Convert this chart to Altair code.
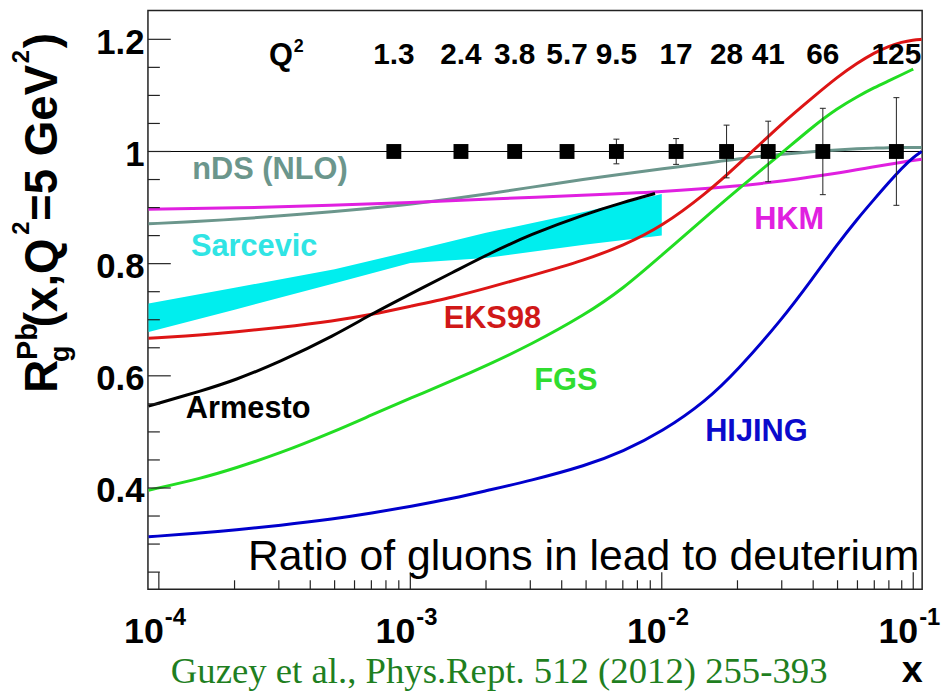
import altair as alt
import pandas as pd

# ---------------- data ----------------
X_GRID = [9.1e-5, 1.5e-4, 2e-4, 3e-4, 5e-4, 7e-4, 1e-3, 1.5e-3, 2e-3, 3e-3, 5e-3, 7e-3,
          1e-2, 1.5e-2, 2e-2, 3e-2, 4e-2, 5e-2, 6e-2, 7e-2, 8e-2, 9e-2, 0.1, 0.108]

nds = [0.871, 0.876, 0.879, 0.885, 0.893, 0.899, 0.906, 0.916, 0.924, 0.936, 0.951, 0.960,
       0.969, 0.979, 0.987, 0.995, 1.000, 1.003, 1.005, 1.006, 1.007, 1.007, 1.007, 1.007]
eks98 = [0.667, 0.673, 0.678, 0.686, 0.698, 0.709, 0.724, 0.741, 0.756, 0.778, 0.807, 0.832,
         0.866, 0.925, 0.975, 1.050, 1.097, 1.133, 1.158, 1.176, 1.188, 1.195, 1.199, 1.200]
fgs = [0.396, 0.418, 0.435, 0.461, 0.501, 0.530, 0.560, 0.593, 0.618, 0.655, 0.710, 0.755,
       0.815, 0.884, 0.932, 0.997, 1.045, 1.077, 1.098, 1.114, 1.126, 1.137, 1.147]
hijing = [0.313, 0.320, 0.325, 0.333, 0.345, 0.355, 0.367, 0.382, 0.395, 0.413, 0.440, 0.465,
          0.500, 0.555, 0.610, 0.700, 0.775, 0.835, 0.880, 0.915, 0.945, 0.970, 0.990, 1.000]

hkm_x = [9.1e-5, 2e-4, 5e-4, 1e-3, 2e-3, 5e-3, 1e-2, 2e-2, 3e-2, 5e-2, 7e-2, 9e-2, 0.108]
hkm = [0.897, 0.899, 0.904, 0.909, 0.915, 0.922, 0.928, 0.938, 0.947, 0.961, 0.973, 0.981, 0.986]

armesto_x = [9.1e-5, 1.5e-4, 2e-4, 3e-4, 5e-4, 7e-4, 1e-3, 1.5e-3, 2e-3, 3e-3, 5e-3, 7e-3, 9.4e-3]
armesto = [0.546, 0.574, 0.592, 0.624, 0.672, 0.710, 0.746, 0.786, 0.815, 0.852, 0.889, 0.909, 0.925]

sarcevic_x = [9.1e-5, 2e-4, 5e-4, 1e-3, 2e-3, 5e-3, 1e-2]
sarcevic_lo = [0.678, 0.718, 0.765, 0.801, 0.810, 0.834, 0.850]
sarcevic_hi = [0.729, 0.757, 0.790, 0.822, 0.855, 0.893, 0.924]

pts_x = [8.6e-4, 1.59e-3, 2.6e-3, 4.2e-3, 6.6e-3, 1.14e-2, 1.81e-2, 2.65e-2, 4.37e-2, 8.57e-2]
pts_y = [1, 1, 1, 1, 1, 1, 1, 1, 1, 1]
pts_err = [0.004, 0.004, 0.004, 0.004, 0.022, 0.023, 0.047, 0.054, 0.077, 0.096]
q2_labels = ["1.3", "2.4", "3.8", "5.7", "9.5", "17", "28", "41", "66", "125"]

y_major = [0.4, 0.6, 0.8, 1.0, 1.2]
y_minor = [0.25, 0.3, 0.35, 0.45, 0.5, 0.55, 0.65, 0.7, 0.75, 0.85, 0.9, 0.95, 1.05, 1.1, 1.15]
x_major = [1e-4, 1e-3, 1e-2, 1e-1]
x_major_exp = ["-4", "-3", "-2", "-1"]
x_minor = [2e-4, 3e-4, 4e-4, 5e-4, 6e-4, 7e-4, 8e-4, 9e-4,
           2e-3, 3e-3, 4e-3, 5e-3, 6e-3, 7e-3, 8e-3, 9e-3,
           2e-2, 3e-2, 4e-2, 5e-2, 6e-2, 7e-2, 8e-2, 9e-2]

models = ["nDS (NLO)", "HKM", "EKS98", "FGS", "HIJING", "Armesto"]
model_colors = ["#6b968c", "#e020e0", "#dd1515", "#22dd22", "#0000cc", "#000000"]

# ---------------- tables ----------------
rows = []
for name, xs, ys in [("nDS (NLO)", X_GRID, nds), ("HKM", hkm_x, hkm), ("EKS98", X_GRID, eks98),
                     ("FGS", X_GRID[:len(fgs)], fgs), ("HIJING", X_GRID, hijing),
                     ("Armesto", armesto_x, armesto)]:
    for xv, yv in zip(xs, ys):
        rows.append({"x": xv, "y": yv, "model": name})
curves = pd.DataFrame(rows)
band = pd.DataFrame({"x": sarcevic_x, "lo": sarcevic_lo, "hi": sarcevic_hi})
pts = pd.DataFrame({"x": pts_x, "y": pts_y, "lo": [a - b for a, b in zip(pts_y, pts_err)],
                    "hi": [a + b for a, b in zip(pts_y, pts_err)], "q2": q2_labels})
bars = pts[[e > 0.01 for e in pts_err]]
one_line = pd.DataFrame({"y": [1.0]})
ONE = pd.DataFrame({"a": [0]})

SANS = "Liberation Sans"
SERIF = "Liberation Serif"

XS = alt.Scale(type="log", domain=[9.05e-5, 0.1085], nice=False)
YS = alt.Scale(domain=[0.2195, 1.2513], nice=False, zero=False)
YAX = alt.Axis(values=y_major, format="~g", labelFont=SANS, labelFontSize=35,
               labelFontWeight="bold", labelColor="black", ticks=False, domain=False,
               grid=False, title=None, labelPadding=4, labelOffset=3)


def X(f="x"):
    return alt.X(f + ":Q", scale=XS, axis=None)


def Y(f="y"):
    return alt.Y(f + ":Q", scale=YS, axis=YAX)


def txt(s, x, y, size, color="black", weight="bold", align="center", angle=0, font=SANS):
    return alt.Chart(ONE).mark_text(text=s, fontSize=size, color=color, fontWeight=weight,
                                    align=align, baseline="alphabetic", angle=angle,
                                    font=font).encode(x=alt.value(x), y=alt.value(y))


layers = []
layers.append(alt.Chart(band).mark_area(color="#00eeee", opacity=1).encode(
    x=X(), y=Y("lo"), y2=alt.Y2("hi")))
layers.append(alt.Chart(one_line).mark_rule(color="black", strokeWidth=1).encode(y=Y()))
layers.append(alt.Chart(curves).mark_line(strokeWidth=3, interpolate="basis", clip=True).encode(
    x=X(), y=Y(), color=alt.Color("model:N", scale=alt.Scale(domain=models, range=model_colors),
                                  legend=None), order=alt.Order("x:Q")))
# error bars and caps
layers.append(alt.Chart(bars).mark_rule(color="#222", strokeWidth=1).encode(
    x=X(), y=Y("lo"), y2=alt.Y2("hi")))
layers.append(alt.Chart(bars).mark_rule(color="#222", strokeWidth=1, xOffset=-3, x2Offset=3).encode(
    x=X(), x2=alt.X2("x"), y=Y("lo")))
layers.append(alt.Chart(bars).mark_rule(color="#222", strokeWidth=1, xOffset=-3, x2Offset=3).encode(
    x=X(), x2=alt.X2("x"), y=Y("hi")))
layers.append(alt.Chart(pts).mark_square(size=225, color="black", opacity=1).encode(x=X(), y=Y()))
# Q^2 labels
layers.append(alt.Chart(pts).mark_text(font=SANS, fontSize=30, fontWeight="bold", color="black",
                                       baseline="alphabetic").encode(
    x=X(), y=alt.value(54), text="q2:N"))
layers.append(txt("Q", 122, 55, 31, align="left"))
layers.append(txt("2", 147, 42, 18, align="left"))

# ticks (inward, ROOT style)
layers.append(alt.Chart(pd.DataFrame({"y": y_major})).mark_rule(color="#222", strokeWidth=1.2).encode(
    y=Y(), x=alt.value(0), x2=alt.value(23)))
layers.append(alt.Chart(pd.DataFrame({"y": y_minor})).mark_rule(color="#222", strokeWidth=1.2).encode(
    y=Y(), x=alt.value(0), x2=alt.value(12)))
layers.append(alt.Chart(pd.DataFrame({"x": x_major})).mark_rule(color="#222", strokeWidth=1.2).encode(
    x=X(), y=alt.value(583), y2=alt.value(566)))
layers.append(alt.Chart(pd.DataFrame({"x": x_minor})).mark_rule(color="#222", strokeWidth=1.2).encode(
    x=X(), y=alt.value(583), y2=alt.value(574)))

# x tick labels 10^k
xlab = pd.DataFrame({"x": x_major, "e": x_major_exp, "b": ["10"] * 4})
layers.append(alt.Chart(xlab).mark_text(font=SANS, fontSize=36, fontWeight="bold", align="right",
                                        baseline="alphabetic", dx=5, color="black").encode(
    x=X(), y=alt.value(637), text="b:N"))
layers.append(alt.Chart(xlab).mark_text(font=SANS, fontSize=24, fontWeight="bold", align="left",
                                        baseline="alphabetic", dx=6, color="black").encode(
    x=X(), y=alt.value(619), text="e:N"))
layers.append(txt("x", 770, 676, 38))

# curve labels
layers.append(txt("nDS (NLO)", 123, 170, 31, color="#6b968c"))
layers.append(txt("Sarcevic", 107, 247, 31, color="#30e4e4"))
layers.append(txt("EKS98", 347, 320, 31, color="#d01818"))
layers.append(txt("Armesto", 101, 410, 31, color="black"))
layers.append(txt("FGS", 421, 382, 31, color="#30dd30"))
layers.append(txt("HIJING", 613, 434, 31, color="#0a0acc"))
layers.append(txt("HKM", 646, 220, 31, color="#e020e0"))
layers.append(txt("Ratio of gluons in lead to deuterium", 439, 564, 43, weight="normal"))
layers.append(txt("Guzey et al., Phys.Rept. 512 (2012) 255-393", 23, 677, 37, color="#1f7f1f",
                  weight="normal", align="left", font=SERIF))

# y-axis title R_g^Pb(x,Q^2=5 GeV^2), rotated
layers.append(txt("R", -92, 385, 46, align="left", angle=270))
layers.append(txt("g", -80, 354, 27, align="left", angle=270))
layers.append(txt("Pb", -112, 352, 29, align="left", angle=270))
layers.append(txt("(x,Q", -92, 319, 46, align="left", angle=270))
layers.append(txt("2", -120, 226, 24, align="left", angle=270))
layers.append(txt("=5 GeV", -92, 212, 46, align="left", angle=270))
layers.append(txt("2", -120, 53, 24, align="left", angle=270))
layers.append(txt(")", -92, 38, 46, align="left", angle=270))

chart = alt.layer(*layers).properties(
    width=780, height=583,
    autosize=alt.AutoSizeParams(type="none"),
    padding={"left": 141, "top": 0, "right": 20, "bottom": 103},
    background="white",
).configure_view(stroke="#222", strokeWidth=1.5)

chart.save("out.html", embed_options={"renderer": "svg", "actions": False})
